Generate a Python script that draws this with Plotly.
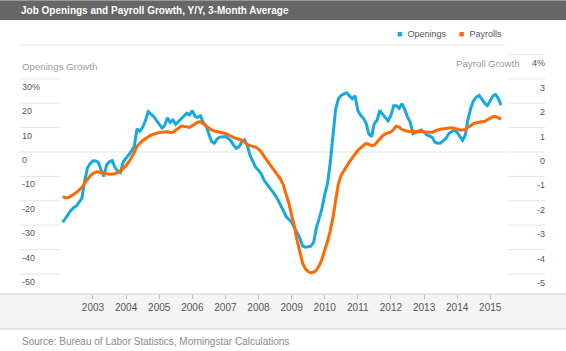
import plotly.graph_objects as go
import pandas as pd

# ---------------- data ----------------
months = pd.date_range("2002-02-01", "2015-05-01", freq="MS")

openings = [
    -28.8, -27.2, -25.6, -24.0, -22.8, -22.2, -20.5, -18.9, -12.0, -6.5, -4.8,
    -3.6, -3.7, -4.3, -7.5, -10.0, -5.2, -4.0, -3.5, -6.4, -7.8, -8.4, -4.0,
    -2.6, -0.8, 0.3, 2.5, 9.5, 8.5, 10.0, 12.8, 16.5, 15.5, 14.5, 13.0,
    11.2, 9.8, 10.8, 14.0, 12.2, 13.1, 11.3, 12.5, 13.5, 14.8, 15.9, 15.2,
    17.0, 14.5, 14.2, 14.8, 12.2, 10.8, 7.5, 4.3, 3.6, 5.3, 6.1, 6.2,
    6.3, 5.6, 4.6, 2.8, 1.5, 2.2, 4.2, 5.0, 2.5, -1.5, -4.2, -6.3,
    -7.5, -9.0, -11.5, -13.1, -14.7, -15.8, -17.6, -19.5, -21.5, -24.0, -26.5, -27.5,
    -28.8, -31.0, -33.0, -35.3, -38.5, -39.0, -38.8, -38.6, -37.0, -31.0, -27.2, -23.2,
    -17.5, -12.8, -5.0, 8.0, 17.5, 21.8, 23.2, 23.8, 24.3, 23.0, 21.8, 23.0,
    17.0, 15.0, 14.0, 12.0, 7.5, 6.3, 11.5, 13.0, 17.0, 15.5, 14.2, 12.8,
    15.0, 19.0, 19.0, 17.9, 19.8, 17.5, 14.5, 12.2, 7.5, 8.0, 8.8, 9.0,
    8.0, 7.0, 6.6, 6.0, 4.0, 3.6, 3.7, 4.5, 5.6, 7.6, 8.5, 9.0,
    8.0, 6.2, 4.8, 7.0, 13.5, 18.0, 21.0, 22.5, 23.2, 21.7, 20.0, 19.0,
    20.8, 23.0, 23.6, 21.8, 19.2,
]

payrolls = [
    -1.83, -1.88, -1.88, -1.82, -1.74, -1.66, -1.57, -1.45, -1.28, -1.12, -0.98,
    -0.88, -0.82, -0.82, -0.85, -0.87, -0.89, -0.91, -0.91, -0.89, -0.85, -0.78, -0.68,
    -0.56, -0.40, -0.24, -0.02, 0.24, 0.37, 0.46, 0.54, 0.62, 0.69, 0.73, 0.77,
    0.80, 0.81, 0.82, 0.83, 0.80, 0.81, 0.89, 0.98, 1.06, 1.05, 1.02, 1.01,
    1.08, 1.17, 1.22, 1.24, 1.16, 1.05, 0.97, 0.90, 0.86, 0.84, 0.82, 0.80,
    0.76, 0.70, 0.65, 0.60, 0.55, 0.52, 0.49, 0.40, 0.30, 0.26, 0.23, 0.20,
    0.12, 0.00, -0.17, -0.33, -0.50, -0.68, -0.82, -0.95, -1.12, -1.35, -1.70, -2.10,
    -2.60, -3.05, -3.60, -4.15, -4.55, -4.78, -4.90, -4.95, -4.93, -4.84, -4.65, -4.40,
    -4.05, -3.65, -3.25, -2.70, -2.00, -1.30, -0.95, -0.75, -0.58, -0.40, -0.24, -0.08,
    0.06, 0.17, 0.27, 0.35, 0.32, 0.26, 0.28, 0.40, 0.55, 0.66, 0.74, 0.79,
    0.82, 0.93, 1.06, 1.02, 0.93, 0.88, 0.85, 0.83, 0.84, 0.85, 0.86, 0.85,
    0.83, 0.81, 0.79, 0.80, 0.86, 0.91, 0.93, 0.95, 0.97, 0.98, 0.99, 0.97,
    0.93, 0.90, 0.90, 0.92, 1.02, 1.11, 1.16, 1.20, 1.21, 1.23, 1.26, 1.32,
    1.39, 1.45, 1.45, 1.41, 1.35,
]

left_ticks = [30, 20, 10, 0, -10, -20, -30, -40, -50]
left_labels = ["30%", "20", "10", "0", "-10", "-20", "-30", "-40", "-50"]
right_ticks = [4, 3, 2, 1, 0, -1, -2, -3, -4, -5]
right_labels = ["4%", "3", "2", "1", "0", "-1", "-2", "-3", "-4", "-5"]

title = "Job Openings and Payroll Growth, Y/Y, 3-Month Average"
source = "Source: Bureau of Labor Statistics, Morningstar Calculations"

# ---------------- styling / layout ----------------
W, H = 566, 351
ML, MR, MT, MB = 60, 61, 54, 57
PW, PH = W - ML - MR, H - MT - MB
BLUE = "#17a8e0"
ORANGE = "#ff6a00"
FONT = "Liberation Sans, Arial, sans-serif"


def px(x):
    return (x - ML) / PW


def py(y):
    return (H - MB - y) / PH


fig = go.Figure()
fig.add_trace(go.Scatter(x=months, y=openings, mode="lines", name="Openings",
                         line=dict(color=BLUE, width=3), yaxis="y"))
fig.add_trace(go.Scatter(x=months, y=payrolls, mode="lines", name="Payrolls",
                         line=dict(color=ORANGE, width=3), yaxis="y2"))

shapes = []
# title bar
shapes.append(dict(type="rect", xref="paper", yref="paper", x0=px(0), x1=px(W),
                   y0=py(20), y1=py(0), fillcolor="#666666", line_width=0, layer="below"))
shapes.append(dict(type="line", xref="paper", yref="paper", x0=px(0), x1=px(W),
                   y0=py(0.5), y1=py(0.5), line=dict(color="#9a9a9a", width=1)))
# line under legend
shapes.append(dict(type="line", xref="paper", yref="paper", x0=px(20), x1=px(505),
                   y0=py(45), y1=py(45), line=dict(color="#e6e6e6", width=1)))
# bottom band
shapes.append(dict(type="rect", xref="paper", yref="paper", x0=px(0), x1=px(W),
                   y0=py(329), y1=py(294), fillcolor="#f4f4f4", line_width=0, layer="below"))
shapes.append(dict(type="line", xref="paper", yref="paper", x0=px(0), x1=px(W),
                   y0=py(329), y1=py(329), line=dict(color="#cfcfcf", width=1)))
shapes.append(dict(type="line", xref="paper", yref="paper", x0=px(0), x1=px(W),
                   y0=py(294), y1=py(294), line=dict(color="#cfcfcf", width=1)))

annotations = []
# left gridline stubs + labels
for v, lab in zip(left_ticks, left_labels):
    x1 = px(505) if v == 0 else px(60)
    shapes.append(dict(type="line", xref="paper", yref="y", x0=px(20), x1=x1,
                       y0=v, y1=v, line=dict(color="#e3e3e3", width=1), layer="below"))
    annotations.append(dict(xref="paper", yref="y", x=px(20), y=v, text=lab,
                            xanchor="left", yanchor="top", yshift=-1, showarrow=False,
                            font=dict(size=9, color="#555555", family=FONT)))
# right gridline stubs + labels
for v, lab in zip(right_ticks, right_labels):
    shapes.append(dict(type="line", xref="paper", yref="y2", x0=px(508), x1=px(545),
                       y0=v, y1=v, line=dict(color="#e3e3e3", width=1), layer="below"))
    annotations.append(dict(xref="paper", yref="y2", x=px(547), y=v, text=lab,
                            xanchor="right", yanchor="top", yshift=-2, showarrow=False,
                            font=dict(size=9, color="#555555", family=FONT)))

# titles and texts
annotations += [
    dict(xref="paper", yref="paper", x=px(19), y=py(10), text=title, xanchor="left",
         yanchor="middle", showarrow=False,
         font=dict(size=10, color="white", family=FONT, weight="bold")),
    dict(xref="paper", yref="paper", x=px(395), y=py(34),
         text=f'<span style="color:{BLUE}">■</span>  Openings', xanchor="left",
         yanchor="middle", showarrow=False, font=dict(size=9, color="#555555", family=FONT)),
    dict(xref="paper", yref="paper", x=px(457), y=py(34),
         text=f'<span style="color:{ORANGE}">■</span>  Payrolls', xanchor="left",
         yanchor="middle", showarrow=False, font=dict(size=9, color="#555555", family=FONT)),
    dict(xref="paper", yref="paper", x=px(20), y=py(66), text="Openings Growth",
         xanchor="left", yanchor="middle", showarrow=False,
         font=dict(size=9.7, color="#9a9a9a", family=FONT)),
    dict(xref="paper", yref="paper", x=px(522), y=py(64), text="Payroll Growth",
         xanchor="right", yanchor="middle", showarrow=False,
         font=dict(size=9.7, color="#9a9a9a", family=FONT)),
    dict(xref="paper", yref="paper", x=px(20), y=py(341), text=source,
         xanchor="left", yanchor="middle", showarrow=False,
         font=dict(size=10, color="#8a8a8a", family=FONT)),
]

fig.update_layout(
    width=W, height=H,
    margin=dict(l=ML, r=MR, t=MT, b=MB, pad=0),
    paper_bgcolor="white", plot_bgcolor="rgba(0,0,0,0)",
    showlegend=False,
    font=dict(family=FONT),
    xaxis=dict(type="date", range=["2002-01-02", "2015-06-13"], showgrid=False,
               zeroline=False, showline=False, ticks="outside", ticklen=4,
               tickcolor="#bbbbbb", tick0="2003-01-01", dtick="M12", tickformat="%Y",
               tickfont=dict(size=10, color="#555555", family=FONT)),
    yaxis=dict(range=[-58.2, 40.16], visible=False, showgrid=False, zeroline=False),
    yaxis2=dict(range=[-5.82, 4.016], overlaying="y", side="right", visible=False,
                showgrid=False, zeroline=False),
    shapes=shapes,
    annotations=annotations,
)

fig.write_html("out.html")
